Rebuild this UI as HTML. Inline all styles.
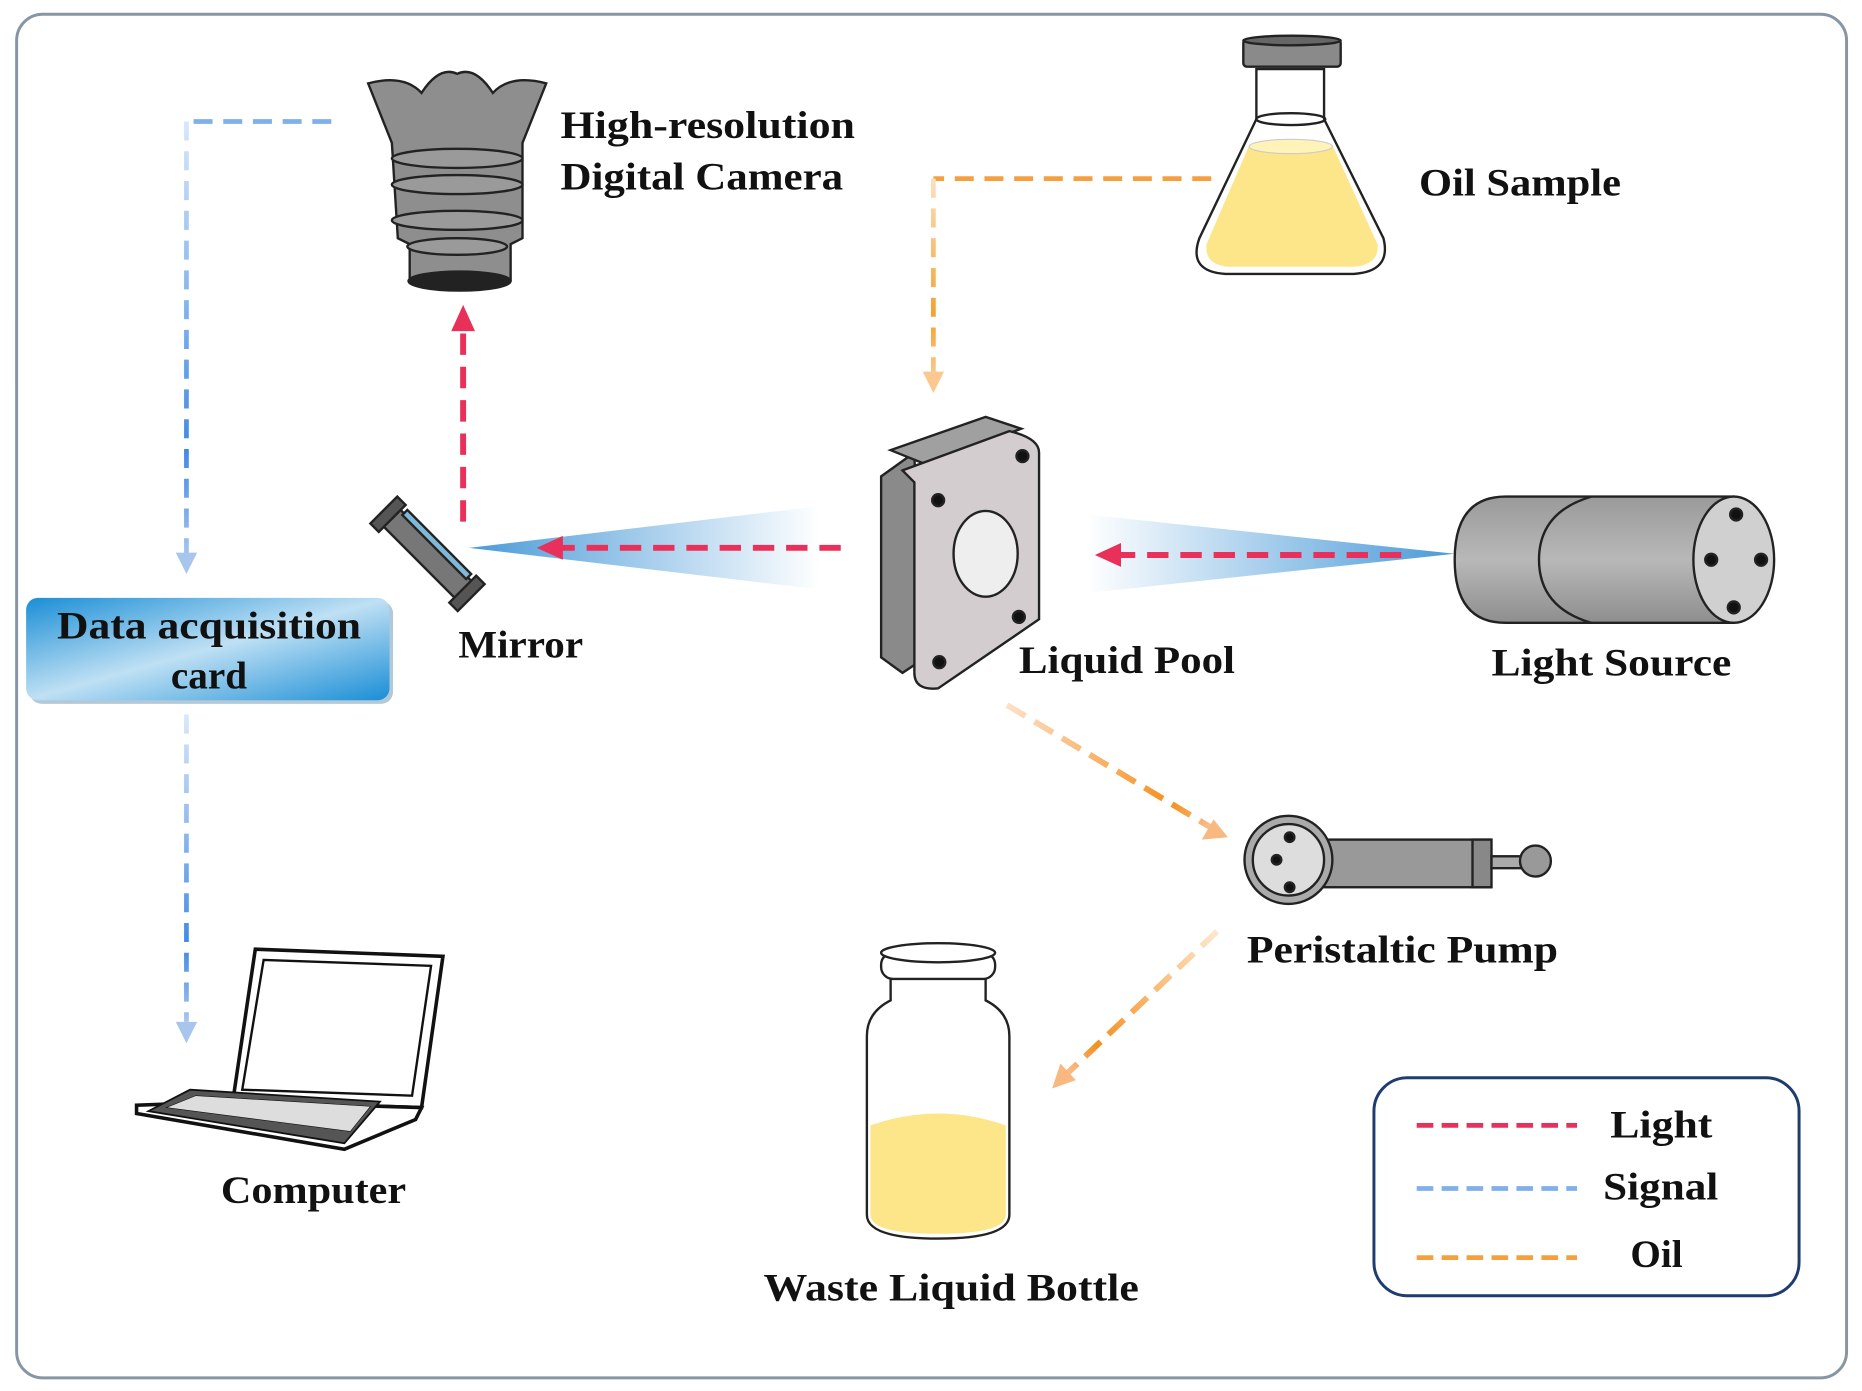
<!DOCTYPE html>
<html><head><meta charset="utf-8"><style>
html,body{margin:0;padding:0;background:#fff;}
svg{display:block;}
text{font-family:"Liberation Serif",serif;font-weight:bold;fill:#111;}
</style></head><body>
<svg width="1862" height="1391" viewBox="0 0 1568 1168" preserveAspectRatio="none" xmlns="http://www.w3.org/2000/svg">
<defs>
<linearGradient id="beamL" x1="0" x2="1" y1="0" y2="0"><stop offset="0" stop-color="#4a9ad8"/><stop offset="1" stop-color="#4a9ad8" stop-opacity="0"/></linearGradient>
<linearGradient id="beamR" x1="1" x2="0" y1="0" y2="0"><stop offset="0" stop-color="#4a9ad8"/><stop offset="1" stop-color="#4a9ad8" stop-opacity="0"/></linearGradient>
<linearGradient id="card" x1="0" x2="1" y1="0" y2="1"><stop offset="0" stop-color="#1a8ed6"/><stop offset="0.5" stop-color="#bfe0f4"/><stop offset="1" stop-color="#1a8ed6"/></linearGradient>
<linearGradient id="sig1" gradientUnits="userSpaceOnUse" x1="0" y1="100" x2="0" y2="470"><stop offset="0" stop-color="#dbe8f8"/><stop offset="0.75" stop-color="#3f8ae6"/><stop offset="1" stop-color="#a9c8ee"/></linearGradient>
<linearGradient id="sig2" gradientUnits="userSpaceOnUse" x1="0" y1="600" x2="0" y2="860"><stop offset="0" stop-color="#dbe8f8"/><stop offset="0.75" stop-color="#3f8ae6"/><stop offset="1" stop-color="#a9c8ee"/></linearGradient>
<linearGradient id="oilV" gradientUnits="userSpaceOnUse" x1="0" y1="150" x2="0" y2="315"><stop offset="0" stop-color="#fde0c0"/><stop offset="0.7" stop-color="#f5a030"/><stop offset="1" stop-color="#fbc890"/></linearGradient>
<linearGradient id="oilD" gradientUnits="userSpaceOnUse" x1="848" y1="592" x2="1020" y2="695"><stop offset="0" stop-color="#fde0c8"/><stop offset="0.8" stop-color="#f59020"/><stop offset="1" stop-color="#f8c090"/></linearGradient>
<linearGradient id="oilD2" gradientUnits="userSpaceOnUse" x1="1025" y1="782" x2="898" y2="902"><stop offset="0" stop-color="#fde8d0"/><stop offset="0.8" stop-color="#f59020"/><stop offset="1" stop-color="#f8c090"/></linearGradient>
<linearGradient id="cyl" x1="0" x2="0" y1="0" y2="1"><stop offset="0" stop-color="#9a9a9a"/><stop offset="0.5" stop-color="#b8b8b8"/><stop offset="1" stop-color="#8e8e8e"/></linearGradient>
</defs>
<rect x="14" y="12" width="1541" height="1145" rx="22" fill="#fff" stroke="#8796a4" stroke-width="2.5"/>

<!-- beams -->
<polygon points="395,460 690,425 690,495" fill="url(#beamL)"/>
<polygon points="1225,465 915,432 915,498" fill="url(#beamR)"/>
<!-- light dashes -->
<line x1="708" y1="460" x2="470" y2="460" stroke="#e8305a" stroke-width="5" stroke-dasharray="18,10"/>
<polygon points="452,460 474,450 474,470" fill="#e8305a"/>
<line x1="1180" y1="466" x2="940" y2="466" stroke="#e8305a" stroke-width="5" stroke-dasharray="18,10"/>
<polygon points="922,466 944,456 944,476" fill="#e8305a"/>
<line x1="390" y1="438" x2="390" y2="275" stroke="#e8305a" stroke-width="5" stroke-dasharray="18,10"/>
<polygon points="390,256 380,278 400,278" fill="#e8305a"/>

<!-- signal -->
<line x1="157" y1="102" x2="157" y2="465" stroke="url(#sig1)" stroke-width="4" stroke-dasharray="16,9"/>
<line x1="163" y1="102" x2="288" y2="102" stroke="#7fb0ea" stroke-width="4" stroke-dasharray="16,9"/>
<polygon points="157,482 148,464 166,464" fill="#a8c6ec"/>
<line x1="157" y1="600" x2="157" y2="858" stroke="url(#sig2)" stroke-width="4" stroke-dasharray="16,9"/>
<polygon points="157,876 148,858 166,858" fill="#a8c6ec"/>

<!-- oil -->
<line x1="1020" y1="150" x2="786" y2="150" stroke="#f5a040" stroke-width="4" stroke-dasharray="16,9"/>
<line x1="786" y1="150" x2="786" y2="312" stroke="url(#oilV)" stroke-width="4" stroke-dasharray="16,9"/>
<polygon points="786,330 777,312 795,312" fill="#fbc890"/>
<line x1="848" y1="592" x2="1020" y2="695" stroke="url(#oilD)" stroke-width="5" stroke-dasharray="18,9"/>
<polygon points="1034,703 1012,705 1022,688" fill="#f8b880"/>
<line x1="1025" y1="782" x2="898" y2="902" stroke="url(#oilD2)" stroke-width="5" stroke-dasharray="18,9"/>
<polygon points="886,914 893,893 906,907" fill="#f8b880"/>

<!-- camera -->
<g stroke="#222" stroke-width="2">
<path d="M310,70 Q340,62 355,78 Q370,55 385,62 Q400,55 415,78 Q430,62 460,70 L440,120 L440,200 L430,205 L430,235 L345,235 L345,205 L335,200 L330,120 Z" fill="#8e8e8e"/>
<ellipse cx="385" cy="133" rx="55" ry="8" fill="#9a9a9a"/>
<ellipse cx="385" cy="155" rx="55" ry="8" fill="#9a9a9a"/>
<ellipse cx="385" cy="185" rx="55" ry="8" fill="#9a9a9a"/>
<ellipse cx="385" cy="207" rx="42" ry="7" fill="#9a9a9a"/>
<ellipse cx="387" cy="236" rx="43" ry="8" fill="#222"/>
</g>
<text x="472" y="116" font-size="33" textLength="248" lengthAdjust="spacingAndGlyphs">High-resolution</text>
<text x="472" y="159" font-size="33" textLength="238" lengthAdjust="spacingAndGlyphs">Digital Camera</text>

<!-- flask -->
<g stroke="#222" stroke-width="2">
<path d="M1058,58 L1115,58 L1115,100 L1165,200 Q1172,228 1140,230 L1032,230 Q1000,228 1010,200 L1058,100 Z" fill="#fff"/>
<path d="M1052,122 L1122,122 L1160,205 Q1162,222 1140,224 L1034,224 Q1014,222 1016,205 Z" fill="#fde58a" stroke="none"/>
<ellipse cx="1087" cy="123" rx="35" ry="6" fill="#fff3b8" stroke="#ccc" stroke-width="1"/>
<ellipse cx="1087" cy="100" rx="29" ry="5" fill="none"/>
<rect x="1047" y="33" width="82" height="23" rx="3" fill="#8a8a8a"/>
<ellipse cx="1088" cy="34" rx="41" ry="4" fill="#666"/>
</g>
<text x="1195" y="164" font-size="33" textLength="170" lengthAdjust="spacingAndGlyphs">Oil Sample</text>

<!-- mirror -->
<g transform="translate(360,465) rotate(45)" stroke="#222" stroke-width="2">
<rect x="-45" y="-10" width="90" height="20" fill="#777"/>
<rect x="-38" y="-14" width="76" height="6" fill="#7fb8d8"/>
<rect x="-52" y="-16" width="10" height="32" fill="#555"/>
<rect x="42" y="-16" width="10" height="32" fill="#555"/>
</g>
<text x="386" y="552" font-size="33" textLength="105" lengthAdjust="spacingAndGlyphs">Mirror</text>

<!-- card -->
<rect x="25" y="505" width="306" height="86" rx="10" fill="#3f78a0" opacity="0.4"/>
<rect x="22" y="502" width="306" height="86" rx="10" fill="url(#card)"/>
<text x="176" y="536" font-size="33" text-anchor="middle" textLength="256" lengthAdjust="spacingAndGlyphs">Data acquisition</text>
<text x="176" y="578" font-size="33" text-anchor="middle">card</text>

<!-- liquid pool -->
<g stroke="#222" stroke-width="2">
<path d="M742,400 L770,380 L775,555 L760,565 L742,552 Z" fill="#8a8a8a"/>
<path d="M750,378 L830,350 L860,360 L780,390 Z" fill="#a0a0a0"/>
<path d="M760,395 L850,362 Q875,368 875,380 L875,520 L790,578 Q770,580 770,565 L770,405 Z" fill="#d4cdd0"/>
<ellipse cx="830" cy="465" rx="27" ry="36" fill="#eee"/>
<circle cx="790" cy="420" r="5" fill="#111"/><circle cx="861" cy="383" r="5" fill="#111"/>
<circle cx="791" cy="556" r="5" fill="#111"/><circle cx="858" cy="518" r="5" fill="#111"/>
</g>
<text x="858" y="565" font-size="33" textLength="182" lengthAdjust="spacingAndGlyphs">Liquid Pool</text>

<!-- light source -->
<g stroke="#222" stroke-width="2">
<path d="M1268,417 L1460,417 L1460,523 L1268,523 Q1225,523 1225,470 Q1225,417 1268,417 Z" fill="url(#cyl)"/>
<path d="M1340,417 Q1296,430 1296,470 Q1296,510 1340,523" fill="none"/>
<ellipse cx="1460" cy="470" rx="34" ry="53" fill="#d0d0d0"/>
<circle cx="1462" cy="432" r="5" fill="#111"/><circle cx="1441" cy="470" r="5" fill="#111"/>
<circle cx="1483" cy="470" r="5" fill="#111"/><circle cx="1460" cy="510" r="5" fill="#111"/>
</g>
<text x="1256" y="567" font-size="33" textLength="202" lengthAdjust="spacingAndGlyphs">Light Source</text>

<!-- pump -->
<g stroke="#222" stroke-width="2">
<rect x="1115" y="705" width="140" height="40" fill="#999"/>
<rect x="1240" y="705" width="16" height="40" fill="#888"/>
<rect x="1256" y="719" width="30" height="10" fill="#aaa"/>
<circle cx="1293" cy="723" r="13" fill="#999"/>
<circle cx="1085" cy="722" r="37" fill="#aaa"/>
<circle cx="1085" cy="722" r="30" fill="#ddd"/>
<circle cx="1086" cy="703" r="4" fill="#111"/><circle cx="1075" cy="722" r="4" fill="#111"/><circle cx="1086" cy="745" r="4" fill="#111"/>
</g>
<text x="1050" y="808" font-size="33" textLength="262" lengthAdjust="spacingAndGlyphs">Peristaltic Pump</text>

<!-- bottle -->
<g stroke="#222" stroke-width="2">
<path d="M750,820 L830,820 L830,840 Q850,850 850,870 L850,1020 Q850,1040 790,1040 Q730,1040 730,1020 L730,870 Q730,850 750,840 Z" fill="#fff"/>
<path d="M733,945 Q790,925 847,945 L847,1020 Q847,1036 790,1036 Q733,1036 733,1020 Z" fill="#fde58a" stroke="none"/>
<rect x="742" y="800" width="96" height="22" rx="10" fill="#fff"/>
<ellipse cx="790" cy="800" rx="48" ry="8" fill="#fff"/>
</g>
<text x="643" y="1092" font-size="33" textLength="316" lengthAdjust="spacingAndGlyphs">Waste Liquid Bottle</text>

<!-- laptop -->
<g stroke="#111" stroke-width="3" fill="#fff">
<path d="M215,797 L373,803 L355,930 L196,925 Z"/>
<path d="M222,806 L363,811 L347,920 L204,915 Z" stroke-width="2"/>
<path d="M196,925 L355,930 L350,940 L290,965 L115,935 L115,928 Z"/>
<path d="M160,915 L320,925 L290,960 L125,933 Z" fill="#555" stroke-width="1.5"/>
<path d="M165,920 L312,929 L295,950 L140,930 Z" fill="#ddd" stroke-width="0.5"/>
</g>
<text x="186" y="1010" font-size="33" textLength="156" lengthAdjust="spacingAndGlyphs">Computer</text>

<!-- legend -->
<rect x="1157" y="905" width="358" height="183" rx="28" fill="#fff" stroke="#1f3c6e" stroke-width="2.5"/>
<line x1="1193" y1="945" x2="1328" y2="945" stroke="#e8305a" stroke-width="4" stroke-dasharray="14,7"/>
<line x1="1193" y1="998" x2="1328" y2="998" stroke="#7fb0ea" stroke-width="4" stroke-dasharray="14,7"/>
<line x1="1193" y1="1056" x2="1328" y2="1056" stroke="#f5a040" stroke-width="4" stroke-dasharray="14,7"/>
<text x="1356" y="955" font-size="33" textLength="86" lengthAdjust="spacingAndGlyphs">Light</text>
<text x="1350" y="1007" font-size="33" textLength="97" lengthAdjust="spacingAndGlyphs">Signal</text>
<text x="1373" y="1064" font-size="33">Oil</text>
</svg>
</body></html>
